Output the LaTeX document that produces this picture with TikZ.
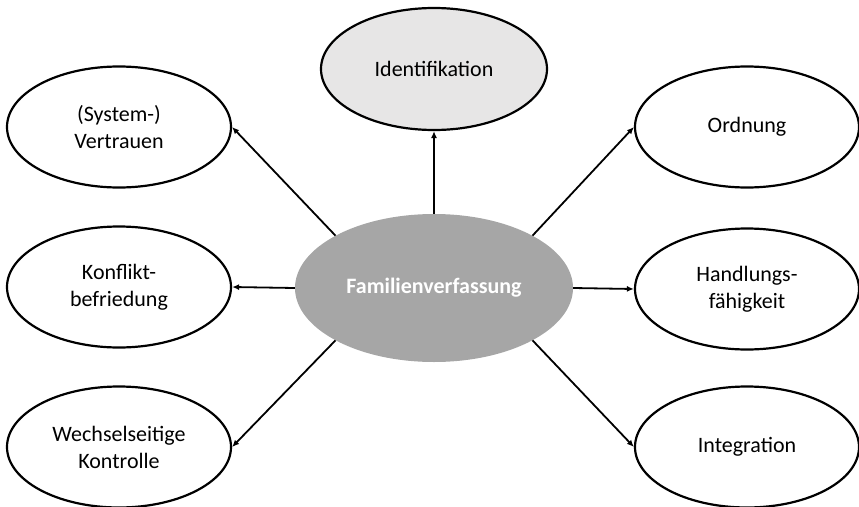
\documentclass[tikz,border=0pt]{standalone}
\usepackage{fontspec}
\setmainfont{Carlito}
\usetikzlibrary{shapes.geometric,arrows.meta}
\definecolor{centerfill}{HTML}{A6A6A6}
\definecolor{idfill}{HTML}{E7E6E6}
\tikzset{
  outer/.style={ellipse, draw=black, line width=2.2pt, fill=white, minimum width=224pt, minimum height=121pt, inner sep=0pt, align=center, font=\fontsize{22}{27}\selectfont},
  idnode/.style={outer, fill=idfill, minimum width=226pt, minimum height=122pt},
  hub/.style={ellipse, fill=centerfill, minimum width=278pt, minimum height=148pt, inner sep=0pt, text=white, font=\fontsize{22}{27}\selectfont\bfseries},
  conn/.style={line width=1.8pt, -{Latex[length=7pt,width=6pt]}}
}
\begin{document}
\begin{tikzpicture}[x=1pt,y=-1pt]
\useasboundingbox (0,0) rectangle (859,506);
\node[hub] (c) at (434,288) {Familienverfassung};
\node[idnode] (id) at (434,69) {Identifikation};
\node[outer] (v) at (119,127) {(System-)\\Vertrauen};
\node[outer] (k) at (119,287) {Konflikt-\\befriedung};
\node[outer] (w) at (119,447) {Wechselseitige\\Kontrolle};
\node[outer] (o) at (747,127) {Ordnung};
\node[outer] (h) at (747,289) {Handlungs-\\fähigkeit};
\node[outer] (i) at (747,447) {Integration};
\draw[conn] (c.north) -- (id.south);
\draw[conn] (c.152) -- (v.east);
\draw[conn] (c.west) -- (k.east);
\draw[conn] (c.208) -- (w.east);
\draw[conn] (c.28) -- (o.west);
\draw[conn] (c.east) -- (h.west);
\draw[conn] (c.-28) -- (i.west);
\end{tikzpicture}
\end{document}
